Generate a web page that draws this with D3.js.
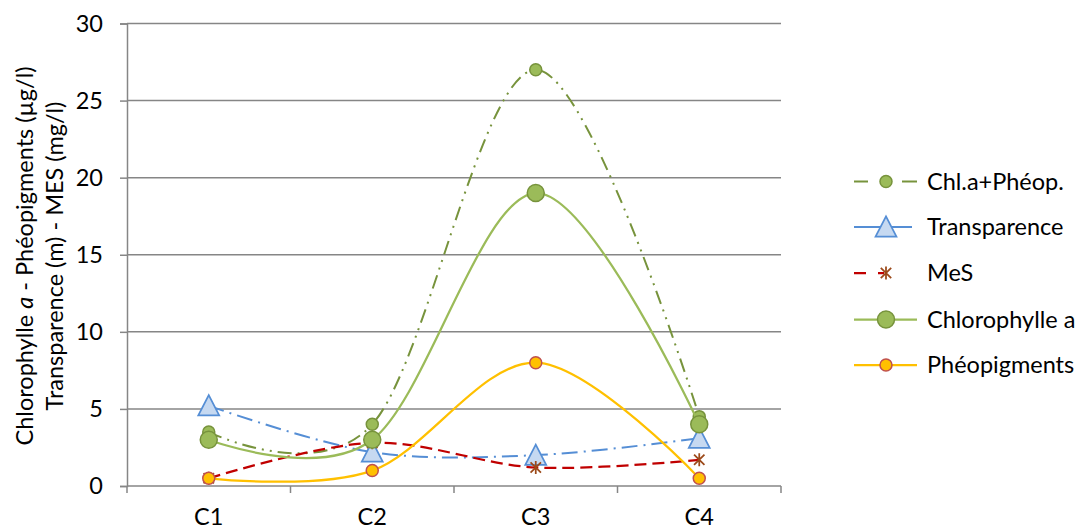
<!DOCTYPE html>
<html>
<head>
<meta charset="utf-8">
<script src="https://cdn.jsdelivr.net/npm/d3@7"></script>
<style>
  html, body { margin: 0; padding: 0; background: #fff; }
  svg text { font-family: Lato, "Open Sans", sans-serif; fill: #000; }
</style>
</head>
<body>
<svg id="chart" width="1079" height="529"></svg>
<script>
// Sampling stations
const categories = ["C1", "C2", "C3", "C4"];

// Series values per station
const chlPheop     = [3.5, 4.0, 27.0, 4.5];   // Chl.a+Phéop. (µg/l)
const transparence = [5.2, 2.2, 2.0, 3.1];    // Transparence (m)
const mes          = [0.5, 2.8, 1.2, 1.7];    // MeS (mg/l)
const chlA         = [3.0, 3.0, 19.0, 4.0];   // Chlorophylle a (µg/l)
const pheop        = [0.5, 1.0, 8.0, 0.5];    // Phéopigments (µg/l)

const yTicks = [0, 5, 10, 15, 20, 25, 30];
const seriesNames = ["Chl.a+Phéop.", "Transparence", "MeS", "Chlorophylle a", "Phéopigments"];

const FONT = 23.5;

const series = [
  { name: seriesNames[0], values: chlPheop, color: "#77933C", width: 2, dash: "14 6 2 6 2 6",
    marker: "circle", r: 6, fill: "#9BBB59", stroke: "#77933C" },
  { name: seriesNames[1], values: transparence, color: "#558ED5", width: 2, dash: "16 6 2 6",
    marker: "triangle", r: 11, fill: "#C6D9F1", stroke: "#558ED5" },
  { name: seriesNames[2], values: mes, color: "#C00000", width: 2.25, dash: "12 6",
    marker: "star", r: 6.5, fill: "none", stroke: "#9C4A1A" },
  { name: seriesNames[3], values: chlA, color: "#9BBB59", width: 2.25, dash: null,
    marker: "circle", r: 8.5, fill: "#9BBB59", stroke: "#77933C" },
  { name: seriesNames[4], values: pheop, color: "#FFC000", width: 2.25, dash: null,
    marker: "circle", r: 6, fill: "#FFC000", stroke: "#C0504D" }
];

const svg = d3.select("#chart");
const plot = { left: 127, right: 781, top: 23.5, bottom: 486 };

const x = d3.scaleBand().domain(categories).range([plot.left, plot.right]).padding(0);
const cx = c => x(c) + x.bandwidth() / 2;
const y = d3.scaleLinear().domain([0, 30]).range([plot.bottom, plot.top]);

// Horizontal gridlines + y axis
const yAxis = d3.axisLeft(y).tickValues(yTicks).tickSize(7).tickPadding(17).tickFormat(d3.format("d"));
const gy = svg.append("g").attr("transform", `translate(${plot.left},0)`).call(yAxis);
gy.select(".domain").attr("stroke", "#868686").attr("stroke-width", 1.5);
gy.selectAll(".tick line").attr("stroke", "#868686").attr("stroke-width", 1.5);
gy.selectAll(".tick text").attr("font-size", FONT).style("font-family", "Lato, 'Open Sans', sans-serif").attr("fill", "#000");

svg.append("g").selectAll("line.grid").data(yTicks.filter(d => d > 0)).join("line")
  .attr("x1", plot.left).attr("x2", plot.right)
  .attr("y1", d => y(d)).attr("y2", d => y(d))
  .attr("stroke", "#868686").attr("stroke-width", 1.5);

// X axis with tick marks at band boundaries
const gx = svg.append("g");
gx.append("line").attr("x1", plot.left).attr("x2", plot.right)
  .attr("y1", y(0)).attr("y2", y(0)).attr("stroke", "#868686").attr("stroke-width", 1.5);
const edges = categories.map(c => x(c)).concat([x(categories[categories.length - 1]) + x.bandwidth()]);
gx.selectAll("line.tk").data(edges).join("line")
  .attr("x1", d => d).attr("x2", d => d)
  .attr("y1", y(0)).attr("y2", y(0) + 7)
  .attr("stroke", "#868686").attr("stroke-width", 1.5);
gx.selectAll("text").data(categories).join("text")
  .attr("x", d => cx(d)).attr("y", 525)
  .attr("text-anchor", "middle").attr("font-size", FONT).text(d => d);

// Axis title (two lines, rotated)
const title = svg.append("g").attr("transform", "translate(0,256) rotate(-90)");
const t1 = title.append("text").attr("x", 0).attr("y", 33).attr("text-anchor", "middle").attr("font-size", FONT);
t1.append("tspan").text("Chlorophylle ");
t1.append("tspan").attr("font-style", "italic").text("a");
t1.append("tspan").text(" - Phéopigments (µg/l)");
title.append("text").attr("x", 0).attr("y", 63).attr("text-anchor", "middle").attr("font-size", FONT)
  .text("Transparence (m) - MES (mg/l)");

// Marker drawing
function drawMarker(g, s, px, py) {
  if (s.marker === "circle") {
    g.append("circle").attr("cx", px).attr("cy", py).attr("r", s.r)
      .attr("fill", s.fill).attr("stroke", s.stroke).attr("stroke-width", 1.5);
  } else if (s.marker === "triangle") {
    const h = s.r * 1.75, w = s.r * 1.9;
    const pts = [[px, py - h / 2 - 1], [px + w / 2, py + h / 2], [px - w / 2, py + h / 2]];
    g.append("polygon").attr("points", pts.map(p => p.join(",")).join(" "))
      .attr("fill", s.fill).attr("stroke", s.stroke).attr("stroke-width", 1.75);
  } else if (s.marker === "star") {
    const r = s.r;
    const d = `M${px},${py - r}L${px},${py + r}` +
      `M${px - r * 0.8},${py - r * 0.8}L${px + r * 0.8},${py + r * 0.8}` +
      `M${px - r * 0.8},${py + r * 0.8}L${px + r * 0.8},${py - r * 0.8}`;
    g.append("path").attr("d", d).attr("stroke", s.stroke).attr("stroke-width", 1.75).attr("fill", "none");
  }
}

// Smoothed lines with markers
const line = d3.line().x(d => cx(d.c)).y(d => y(d.v)).curve(d3.curveCardinal.tension(0));
series.forEach(s => {
  const g = svg.append("g");
  const pts = categories.map((c, i) => ({ c, v: s.values[i] }));
  g.append("path").datum(pts).attr("d", line)
    .attr("fill", "none").attr("stroke", s.color).attr("stroke-width", s.width)
    .attr("stroke-dasharray", s.dash).attr("stroke-linecap", "butt");
  pts.forEach(p => drawMarker(g, s, cx(p.c), y(p.v)));
});

// Legend
const legend = svg.append("g");
const rowY = [181.5, 227, 273, 319.5, 365];
series.forEach((s, i) => {
  const g = legend.append("g");
  const yy = rowY[i];
  g.append("line").attr("x1", 854).attr("x2", 917).attr("y1", yy).attr("y2", yy)
    .attr("stroke", s.color).attr("stroke-width", s.width)
    .attr("stroke-dasharray", s.dash ? (i === 0 ? "14 10 0 100" : (i === 1 ? "40 200" : "12 12 6 100")) : null);
  if (i === 0) {
    g.append("line").attr("x1", 902).attr("x2", 917).attr("y1", yy).attr("y2", yy)
      .attr("stroke", s.color).attr("stroke-width", s.width);
  }
  if (i === 1) {
    g.append("line").attr("x1", 894).attr("x2", 912).attr("y1", yy).attr("y2", yy)
      .attr("stroke", s.color).attr("stroke-width", s.width);
  }
  drawMarker(g, s, 886, yy);
  g.append("text").attr("x", 927).attr("y", yy + 8).attr("font-size", FONT).text(s.name);
});
</script>
</body>
</html>
